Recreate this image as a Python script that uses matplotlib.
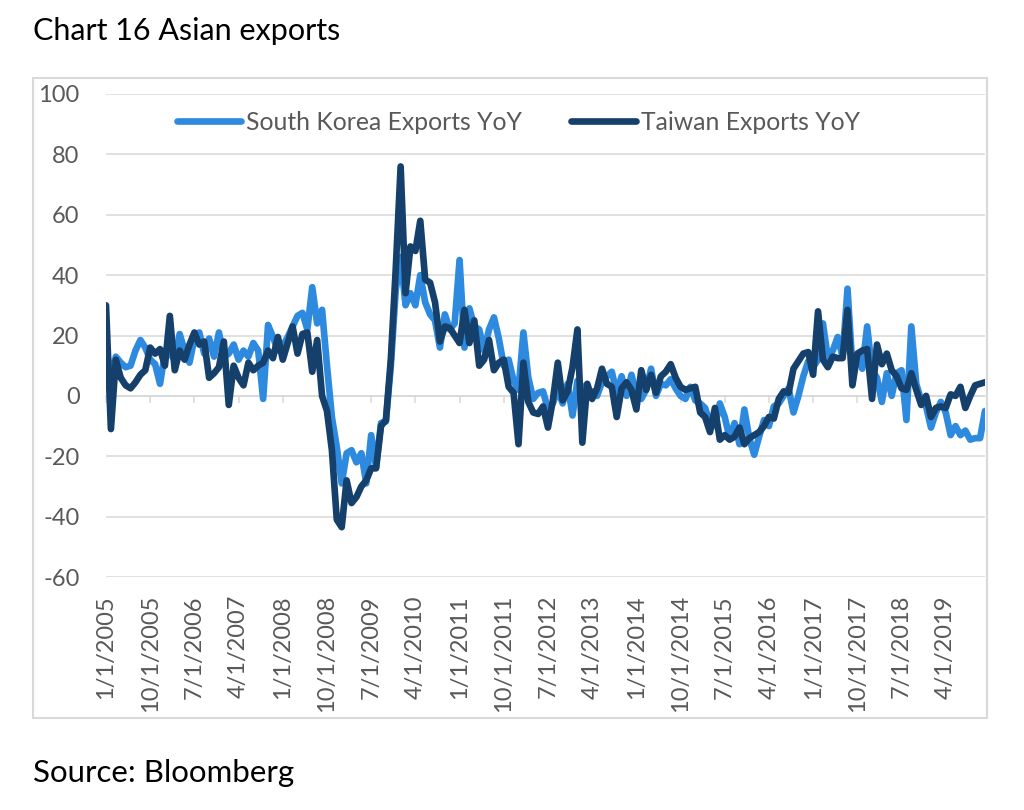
import numpy as np
import pandas as pd
import matplotlib
matplotlib.use("Agg")
import matplotlib.pyplot as plt
from matplotlib.patches import Rectangle

# Datos mensuales, ene-2005 a dic-2019
months = pd.date_range("2005-01-01", periods=180, freq="MS")

korea = [
    17, 5, 13, 11, 9.5, 10, 15, 18.5, 16, 12, 10.5, 4,
    14, 14, 12, 20.5, 15, 11, 19, 21, 14, 19, 13, 21,
    13, 14, 17, 12, 15, 13, 17.5, 15, -1, 23.5, 19.5, 15,
    16.5, 19.5, 23, 26.5, 27.5, 22, 36, 24, 28.5, 10, -7, -17,
    -29, -19, -18, -22, -19, -29, -13, -23.5, -9, -8.5, 10, 35,
    46, 30, 34, 30, 40, 31, 27, 25, 16, 27, 22, 24,
    45, 16, 29, 23, 22, 15, 22, 26, 19, 10, 12, 5,
    2, 21, 6, -1, 1, 1.5, -4.5, -2.5, 2, -2.5, 4, -6.5,
    5, 3, 0.5, 1.5, 0, 4.5, 6.5, 8, 1, 6.5, 0, 7,
    1, -1, 2, 9, 0, 4, 3.5, 5.5, 2.5, 0, -1, 3,
    -1.5, -2.5, -4, -9, -10, -2.5, -7, -14, -9, -16, -4.5, -14,
    -19.5, -13.5, -8, -10, -3.5, -2.5, 0, 2.5, -5.5, 0, 6.5, 11.5,
    9.5, 12, 24, 12.5, 15, 19.5, 13, 35.5, 9.5, 13.5, 9, 23,
    8.5, 6, -2, 7.5, 0, 7.5, 8.5, -8, 23, 4, -1.5, -3.5,
    -10.5, -5.5, -2, -5.5, -13, -10, -13, -11.5, -14.5, -14, -14, -5,
]

taiwan = [
    30, -11, 12, 6, 3.5, 2.5, 4.5, 7, 8.5, 16, 14, 15.5,
    10, 26.5, 8.5, 15, 12, 17, 21, 17, 18, 6, 7.5, 9.5,
    18, -3, 10, 6, 3.5, 11, 8.5, 10, 11, 15, 12.5, 19.5,
    12, 17.5, 23, 14, 20.5, 21, 8, 18.5, 0, -5, -18, -41,
    -43.5, -28, -35.5, -33.5, -30, -28, -24, -24, -10, -8, 12, 42,
    76, 34, 49.5, 48, 58, 38.5, 37.5, 31, 18, 23, 22.5, 20,
    17.5, 28.5, 17.5, 25, 10, 12, 18.5, 8.5, 11, 12, 3, 1,
    -16, 11, -2, -5.5, -6, -3.5, -10.5, -1.5, 11, -1.5, 1.5, 9.5,
    22, -15.5, 4, -1, 2.5, 9, 4, 3, -7, 2.5, 4.5, 2,
    -4.5, 8.5, 2, 7, 1, 6.5, 8, 10.5, 6, 3, 2, 2.5,
    3, -5.5, -7, -12, -4, -14.5, -13, -14.5, -13.5, -10.5, -16, -14,
    -13, -12, -10, -7, -7.5, -1, 1.5, 1, 9, 11.5, 14, 14.5,
    7, 28, 12, 9.5, 13, 12.5, 12.5, 28.5, 3.5, 14, 15, 15.5,
    -1, 17, 10.5, 14, 8.5, 6.5, 2.5, 2, 7.5, 2, -3, 0,
    -7, -4, -3.5, -4, 0.5, 0, 3, -4, 0, 3.5, 4, 4.5,
]

x = np.arange(len(months))
tick_idx = x[::9]
tick_labels = [f"{d.month}/1/{d.year}" for d in months[::9]]

plt.rcParams['font.family'] = ['Lato', 'DejaVu Sans']
plt.rcParams['axes.unicode_minus'] = False
gris_texto = "#595959"
gris_linea = "#d9d9d9"

fig = plt.figure(figsize=(10.24, 8.10), dpi=100)
ax = fig.add_axes([106 / 1024, 1 - 577 / 810, 879 / 1024, 483 / 810])

ax.plot(x, korea, color="#2e8ade", linewidth=4.8, label="South Korea Exports YoY",
        solid_joinstyle="round", solid_capstyle="round")
ax.plot(x, taiwan, color="#16406c", linewidth=4.8, label="Taiwan Exports YoY",
        solid_joinstyle="round", solid_capstyle="round")

ax.set_xlim(0, len(months) - 1)
ax.set_ylim(-60, 100)
ax.set_yticks(np.arange(-60, 101, 20))
ax.grid(axis="y", color=gris_linea, linewidth=1.1)
ax.set_axisbelow(True)
for s in ax.spines.values():
    s.set_visible(False)

ax.set_xticks(tick_idx)
ax.set_xticklabels(tick_labels, rotation=90, ha="center", va="top")
ax.tick_params(axis="x", length=0, pad=13, labelsize=17, labelcolor=gris_texto)
ax.tick_params(axis="y", length=0, pad=19, labelsize=17, labelcolor=gris_texto)

# Eje de categorías en y = 0 (solo línea y marcas)
eje0 = ax.secondary_xaxis(60 / 160)
eje0.set_xticks(tick_idx)
eje0.set_xticklabels([])
eje0.tick_params(length=5, width=1.1, color=gris_linea, direction="out")
eje0.spines["bottom"].set_color(gris_linea)
eje0.spines["bottom"].set_linewidth(1.1)

ax.legend(loc="center", bbox_to_anchor=(0.469, 0.942), ncol=2, frameon=False,
          fontsize=17.8, labelcolor=gris_texto, handlelength=2.6,
          handletextpad=0.2, columnspacing=2.0)

# Marco del gráfico
fig.patches.append(Rectangle((33 / 1024, 1 - 718 / 810), 954 / 1024, 640 / 810,
                             transform=fig.transFigure, fill=False,
                             edgecolor=gris_linea, linewidth=1.5))

fig.text(33 / 1024, 1 - 40 / 810, "Chart 16 Asian exports", fontsize=22,
         color="black", va="baseline", ha="left")
fig.text(33 / 1024, 1 - 782 / 810, "Source: Bloomberg", fontsize=22.5,
         color="black", va="baseline", ha="left")

fig.savefig("out.png", dpi=100)
